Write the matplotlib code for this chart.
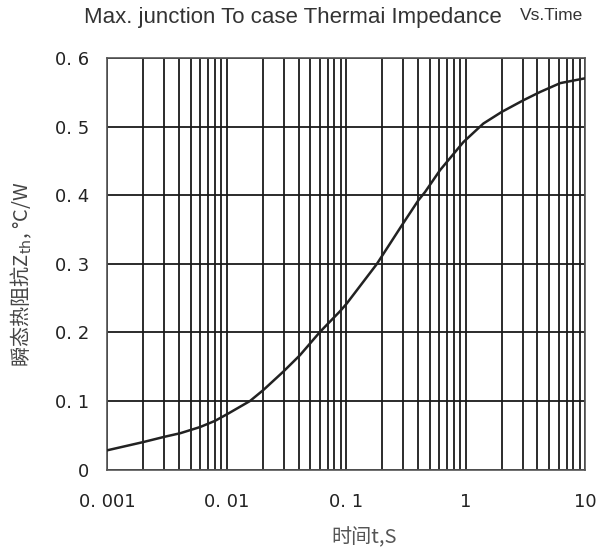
import matplotlib
matplotlib.use("Agg")
import matplotlib.pyplot as plt

# Transient thermal impedance curve
time_s = [0.001, 0.002, 0.00306, 0.0041, 0.006, 0.008, 0.0104, 0.0157,
          0.0203, 0.0299, 0.0412, 0.0606, 0.089, 0.101, 0.181, 0.292,
          0.403, 0.458, 0.612, 0.96, 1.41, 2.01, 3.05, 4.2, 6.2, 10.0]
zth = [0.028, 0.040, 0.048, 0.053, 0.062, 0.071, 0.082, 0.100,
       0.116, 0.143, 0.167, 0.201, 0.231, 0.242, 0.300, 0.356,
       0.393, 0.405, 0.437, 0.478, 0.505, 0.522, 0.539, 0.551, 0.564, 0.571]

x_ticks = [0.001, 0.01, 0.1, 1, 10]
x_tick_labels = ["0. 001", "0. 01", "0. 1", "1", "10"]
y_ticks = [0, 0.1, 0.2, 0.3, 0.4, 0.5, 0.6]
y_tick_labels = ["0", "0. 1", "0. 2", "0. 3", "0. 4", "0. 5", "0. 6"]

plt.rcParams["font.family"] = ["Noto Sans CJK SC", "DejaVu Sans"]

fig = plt.figure(figsize=(6.05, 5.54), dpi=100)
ax = fig.add_axes([0.177, 0.1525, 0.790, 0.742])

ax.set_xscale("log")
ax.set_xlim(0.001, 10)
ax.set_ylim(0, 0.6)

# grid: every decade step vertically, every 0.1 horizontally
minor = [m * 10.0 ** e for e in range(-3, 1) for m in range(2, 10)]
for xv in minor + x_ticks:
    ax.axvline(xv, color="#1a1a1a", lw=1.3, zorder=1)
for yv in y_ticks:
    ax.axhline(yv, color="#1a1a1a", lw=1.3, zorder=1)

ax.plot(time_s, zth, color="#222222", lw=1.8, zorder=3)

ax.set_xticks(x_ticks)
ax.set_xticklabels(x_tick_labels, family="DejaVu Sans")
ax.xaxis.set_minor_locator(matplotlib.ticker.NullLocator())
ax.set_yticks(y_ticks)
ax.set_yticklabels(y_tick_labels, family="DejaVu Sans")
ax.tick_params(axis="both", length=0, labelsize=13, labelcolor="#222222")
ax.tick_params(axis="x", pad=17)
ax.tick_params(axis="y", pad=13)
for s in ax.spines.values():
    s.set_color("#555555")
    s.set_linewidth(1.2)

fig.text(364 / 605, 1 - 538 / 554, "时间t,S", fontsize=14.5, color="#555555",
         ha="center", va="center")
fig.text(21 / 605, 1 - 274 / 554, "瞬态热阻抗Z$_{\\mathrm{th}}$, °C/W",
         fontsize=14.5, color="#444444", rotation=90,
         ha="center", va="center")

fig.text(84 / 605, 1 - 18 / 554, "Max. junction To case Thermai Impedance",
         fontsize=16, family="Liberation Sans", color="#333333",
         ha="left", va="center")
fig.text(520 / 605, 1 - 15 / 554, "Vs.Time", fontsize=12.5,
         family="Liberation Sans", color="#333333", ha="left", va="center")

fig.savefig("out.png", dpi=100)
